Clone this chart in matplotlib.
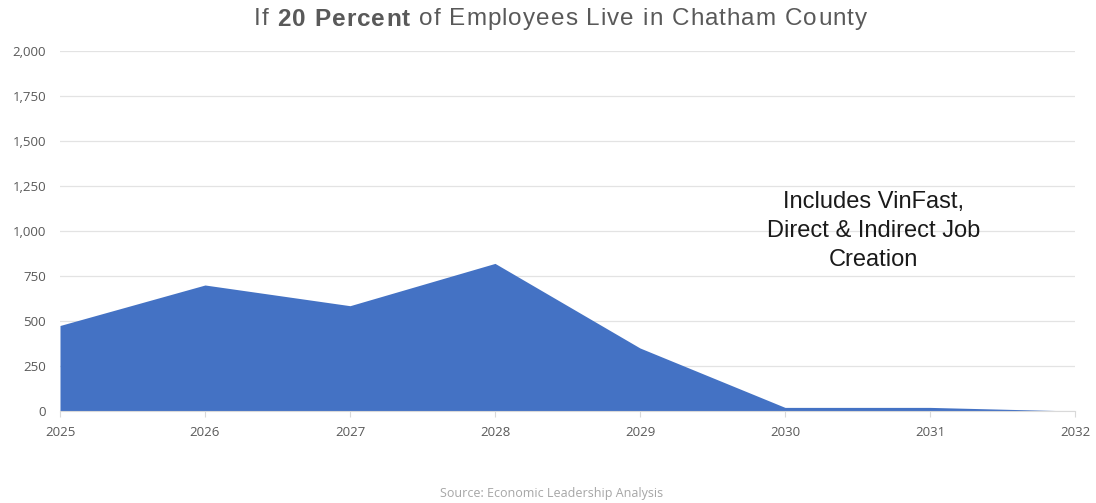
import matplotlib.pyplot as plt
import numpy as np

years = [2025, 2026, 2027, 2028, 2029, 2030, 2031, 2032]
employees = [475, 700, 585, 820, 350, 20, 20, 0]
y_ticks = [0, 250, 500, 750, 1000, 1250, 1500, 1750, 2000]

fig = plt.figure(figsize=(10.96, 5.03), dpi=100)
ax = fig.add_axes([60/1096, 92/503, 1015/1096, 360/503])

ax.fill_between(years, employees, 0, color='#4472C4', linewidth=0)

ax.set_xlim(2025, 2032)
ax.set_ylim(0, 2000)
ax.set_yticks(y_ticks)
ax.set_yticklabels([f'{v:,}' for v in y_ticks])
ax.set_xticks(years)
ax.set_xticklabels([str(y) for y in years])

ax.grid(axis='y', color='#e3e3e3', linewidth=0.9)
ax.set_axisbelow(True)
for s in ['top', 'right', 'left']:
    ax.spines[s].set_visible(False)
ax.spines['bottom'].set_color('#d9d9d9')
ax.tick_params(axis='y', length=0, pad=10, labelsize=9.5, labelcolor='#595959')
ax.tick_params(axis='x', length=4, color='#d9d9d9', pad=7, labelsize=9.5, labelcolor='#595959')
for lab in ax.get_xticklabels() + ax.get_yticklabels():
    lab.set_family('Open Sans')

# title drawn char by char: the original is a bit letter-spaced
title_parts = [('If ', 'normal'), ('20 Percent', 'bold'),
               (' of Employees Live in Chatham County', 'normal')]
fs = 17.5
renderer = fig.canvas.get_renderer()
space_w = 0.278 * fs * 100 / 72
chars = []
for s, w in title_parts:
    for ch in s:
        if ch == ' ':
            chars.append((None, space_w))
        else:
            t = fig.text(0, 0.962, ch, ha='left', va='center', fontsize=fs,
                         color='#595959', family='Liberation Sans', weight=w)
            chars.append((t, t.get_window_extent(renderer).width))
left, right = 254, 867
natural = sum(wd for _, wd in chars)
track = (right - left - natural) / (len(chars) - 1)
x = left
for t, wd in chars:
    if t is not None:
        t.set_x(x / 1096)
    x += wd + track

ax.text(2030.61, 1000, 'Includes VinFast,\nDirect & Indirect Job\nCreation',
        ha='center', va='center', fontsize=17, linespacing=1.4,
        color='#1a1a1a', family='Liberation Sans')

fig.text(552/1096, 1 - 493/503, 'Source: Economic Leadership Analysis',
         ha='center', va='center', fontsize=9, color='#a6a6a6', family='Open Sans')

fig.savefig('out.png', dpi=100)
